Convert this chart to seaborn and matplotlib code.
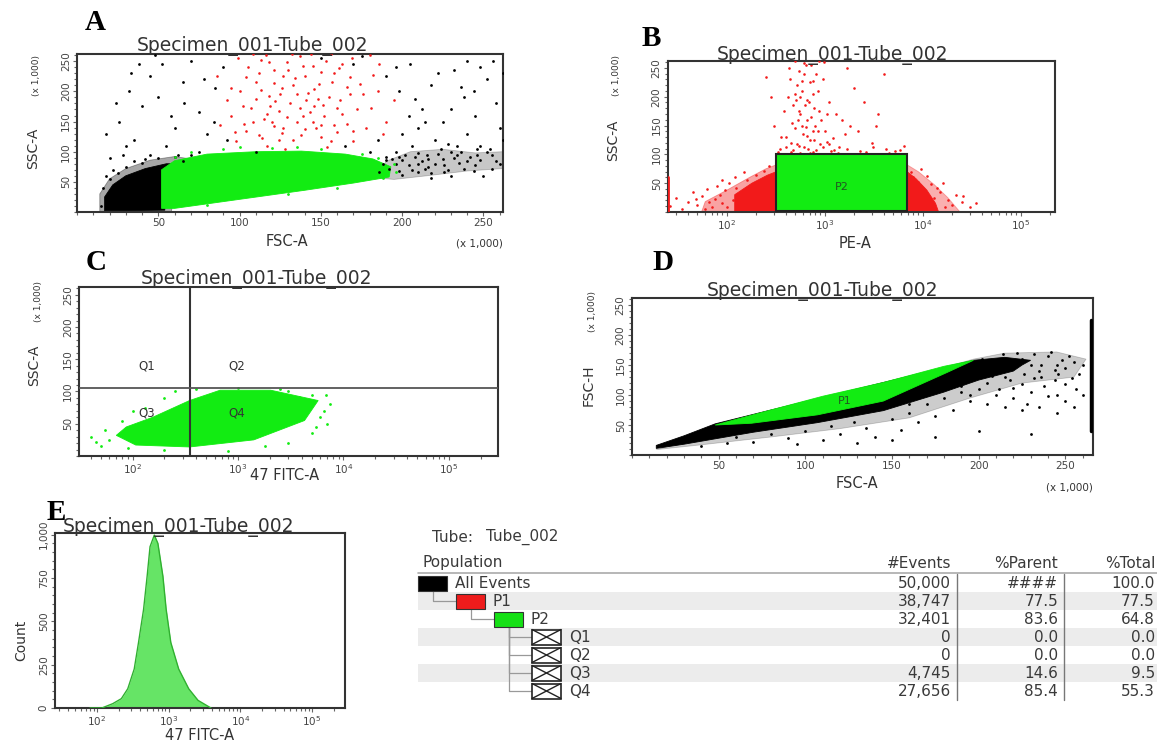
import numpy as np
import pandas as pd
import matplotlib
matplotlib.use('Agg')
import matplotlib.pyplot as plt
from matplotlib.patches import Rectangle
from matplotlib.ticker import FixedLocator, MultipleLocator, LogLocator, NullFormatter
import seaborn as sns

# ---------------- data ----------------
# panel A: FSC-A vs SSC-A (both x 1,000)
a_black_core = [(17, 2), (17, 25), (22, 45), (30, 60), (42, 72), (55, 80), (63, 80), (57, 60), (54, 30), (54, 3)]
a_black_halo = [(14, 0), (14, 30), (20, 55), (30, 72), (45, 86), (60, 92), (70, 88), (62, 60), (58, 0)]
a_green_core = [(52, 6), (52, 70), (60, 85), (80, 96), (110, 100), (138, 101), (165, 96), (182, 88), (193, 75),
                (192, 58), (170, 48), (140, 36), (100, 21), (60, 6)]
a_black_right_halo = [(186, 56), (190, 84), (205, 100), (225, 104), (245, 98), (262, 100), (262, 72), (240, 68), (215, 60), (195, 54)]
a_red = [(98, 118), (104, 135), (112, 128), (121, 142), (133, 120), (140, 138), (150, 125), (160, 133), (170, 118), (178, 140),
         (95, 160), (107, 172), (115, 155), (124, 168), (131, 181), (139, 160), (146, 175), (155, 190), (163, 162), (172, 170),
         (100, 200), (110, 215), (118, 192), (126, 205), (134, 222), (142, 198), (149, 212), (158, 230), (166, 208), (176, 195),
         (105, 240), (113, 252), (121, 236), (129, 248), (137, 258), (145, 242), (153, 250), (161, 238), (169, 255), (182, 228),
         (88, 145), (92, 185), (86, 225), (190, 150), (195, 185), (186, 245), (117, 110), (128, 104), (154, 108), (145, 150),
         (119, 176), (127, 140), (135, 195), (112, 230), (152, 160), (140, 225), (124, 120), (108, 150), (162, 185), (130, 235),
         (99, 255), (116, 260), (144, 262), (168, 224), (181, 172), (102, 176), (158, 145), (137, 172), (121, 214), (148, 188),
         (114, 122), (126, 131), (138, 127), (147, 139), (156, 118), (166, 146), (103, 146), (117, 163), (129, 158), (143, 166),
         (151, 178), (160, 172), (110, 188), (122, 184), (133, 210), (146, 204), (157, 216), (168, 196), (104, 224), (118, 248),
         (127, 226), (139, 242), (150, 232), (163, 246), (174, 212), (95, 205), (180, 260), (132, 262), (156, 262), (108, 262),
         (125, 195), (141, 186), (113, 202), (170, 135), (185, 200), (97, 132), (188, 130), (120, 150), (135, 150), (150, 145)]
a_black = [(22, 70), (28, 95), (35, 120), (26, 150), (40, 175), (32, 200), (45, 225), (38, 245), (55, 110), (60, 140),
           (50, 190), (65, 215), (70, 250), (75, 165), (80, 130), (62, 95), (85, 205), (90, 240), (150, 255), (175, 258),
           (190, 225), (198, 200), (205, 245), (212, 170), (218, 210), (225, 150), (232, 235), (238, 190), (245, 160), (252, 220),
           (258, 180), (200, 130), (210, 140), (220, 120), (230, 100), (240, 130), (248, 110), (255, 95), (260, 140), (185, 120),
           (215, 95), (225, 88), (235, 82), (245, 78), (255, 72), (206, 110), (196, 100), (216, 75), (228, 70), (250, 60),
           (42, 88), (30, 110), (18, 130), (58, 160), (48, 260), (110, 100), (165, 110), (180, 100), (240, 250), (262, 230),
           (192, 72), (196, 80), (200, 86), (204, 78), (208, 92), (212, 84), (216, 88), (220, 80), (198, 68), (206, 70),
           (210, 98), (202, 95), (194, 88), (214, 72), (222, 96), (226, 78), (232, 90), (236, 100), (242, 92), (248, 86),
           (188, 80), (186, 66), (218, 64), (230, 60), (238, 72), (252, 100), (258, 85), (244, 68), (234, 110), (224, 104),
           (15, 10), (16, 40), (20, 55), (25, 65), (30, 75), (40, 82), (50, 90), (60, 92), (65, 85), (70, 95),
           (22, 30), (18, 60), (35, 85), (45, 95), (75, 100), (200, 62), (210, 66), (190, 92), (228, 112), (246, 104),
           (20, 90), (24, 180), (33, 230), (52, 245), (66, 180), (78, 220), (84, 150), (92, 120), (170, 245), (196, 240),
           (208, 188), (222, 230), (236, 208), (248, 240), (256, 250), (244, 200), (230, 170), (214, 150), (204, 160), (262, 120),
           (234, 94), (226, 66), (218, 56), (210, 80), (198, 92), (190, 86), (246, 94), (254, 104), (260, 80), (240, 84)]
a_green = [(70, 100), (90, 104), (120, 106), (150, 104), (175, 97), (60, 92), (100, 108), (135, 108), (185, 90), (195, 80),
           (196, 66), (188, 56), (160, 40), (130, 30), (80, 12)]

# panel B: PE-A (log) vs SSC-A
b_gate = (320, 2, 6900, 100)          # P2 rectangle: x0, y0, x1, y1
b_red_left_core = [(120, 0), (120, 30), (180, 50), (260, 64), (320, 70), (320, 0)]
b_red_left_halo = [(55, 0), (60, 18), (100, 38), (170, 60), (250, 75), (320, 82), (320, 0)]
b_red_right_core = [(6900, 0), (6900, 70), (8500, 58), (11000, 38), (13500, 15), (14500, 0)]
b_red_right_halo = [(6900, 0), (6900, 82), (9000, 70), (13000, 48), (18000, 25), (24000, 0)]
b_red = [(26, 10), (30, 25), (35, 5), (40, 18), (45, 35), (50, 12), (55, 28), (62, 40), (70, 8), (75, 22),
         (80, 45), (88, 15), (95, 38), (105, 50), (115, 20), (125, 42), (140, 10), (160, 55), (180, 30), (200, 65),
         (240, 72), (270, 80), (150, 70), (120, 60), (90, 55), (65, 18), (85, 30), (100, 8), (60, 5), (48, 22),
         (7500, 70), (8000, 60), (9000, 52), (10000, 40), (12000, 48), (13000, 25), (15000, 35), (18000, 20), (20000, 12), (22000, 30),
         (25000, 18), (30000, 8), (9500, 75), (11000, 62), (16000, 50), (17000, 8), (14000, 42), (26000, 28), (35000, 15), (12000, 10),
         (350, 110), (400, 130), (450, 120), (500, 145), (550, 115), (600, 135), (650, 160), (700, 125), (800, 150), (900, 118),
         (1000, 140), (1200, 128), (1400, 112), (1600, 135), (380, 175), (420, 200), (470, 185), (520, 220), (560, 170), (610, 240),
         (660, 195), (720, 255), (780, 180), (850, 210), (950, 230), (1100, 190), (1300, 170), (1500, 160), (430, 250), (490, 262),
         (540, 245), (590, 210), (640, 255), (700, 225), (760, 205), (820, 240), (880, 175), (980, 260), (1800, 150), (2200, 140),
         (2500, 190), (3000, 120), (300, 150), (280, 200), (250, 235), (2000, 215), (3500, 170), (4000, 240), (1700, 250), (620, 185),
         (530, 160), (460, 155), (750, 140), (680, 110), (1150, 105), (900, 100), (1250, 108), (2600, 104), (4200, 110), (5200, 106),
         (560, 102), (760, 104), (450, 104), (3300, 150), (590, 228), (510, 195), (870, 262), (660, 132), (720, 165), (1050, 122),
         (470, 108), (520, 118), (610, 112), (700, 102), (820, 108), (950, 112), (1100, 118), (1350, 102), (1700, 110), (2300, 106),
         (3100, 112), (4500, 102), (5800, 108), (6500, 115), (400, 112), (360, 130), (330, 104), (580, 150), (640, 148), (780, 125),
         (860, 140), (920, 160), (1050, 170), (560, 200), (610, 258), (760, 228), (440, 230), (500, 205), (540, 175), (690, 190)]
b_edge_y = [0, 60]

# panel C: 47 FITC-A (log) vs SSC-A, quadrant gate
c_quad_x = 350
c_quad_y = 106
c_green_core = [(70, 32), (87, 45), (155, 60), (347, 86), (676, 102), (2040, 102), (5750, 86), (4270, 55), (1410, 25), (347, 14), (107, 17)]
c_green = [(60, 25), (55, 40), (80, 55), (100, 70), (130, 75), (200, 90), (250, 100), (400, 104), (1000, 105), (3000, 100),
           (5000, 95), (6500, 70), (7000, 50), (5000, 35), (3000, 20), (1800, 15), (90, 12), (50, 15), (40, 30), (4500, 80),
           (6000, 60), (150, 20), (200, 10), (800, 8), (2500, 104), (3800, 92), (7500, 80), (6800, 95), (5500, 45), (45, 22)]
c_quad_labels = [('Q1', 135, 139), ('Q2', 980, 139), ('Q3', 135, 66), ('Q4', 980, 66)]

# panel D: FSC-A vs FSC-H (both x 1,000)
d_black_core = [(14, 11), (14, 16), (30, 32), (48, 52), (80, 75), (145, 121), (197, 158), (215, 163), (230, 158), (225, 150),
                (220, 140), (200, 125), (180, 105), (145, 74), (107, 54), (70, 38), (48, 27), (30, 18)]
d_black_halo = [(14, 9), (40, 17), (80, 30), (120, 44), (160, 62), (195, 95), (225, 120), (255, 130), (262, 160), (245, 172),
                (215, 170), (197, 160)]
d_green_core = [(48, 50), (80, 75), (110, 98), (145, 121), (180, 148), (197, 158), (182, 138), (145, 90), (107, 67), (69, 53)]
d_black = [(40, 15), (55, 20), (60, 30), (70, 22), (80, 35), (90, 28), (95, 18), (100, 40), (110, 25), (115, 48),
           (120, 35), (128, 55), (135, 45), (140, 30), (150, 60), (155, 42), (160, 70), (165, 55), (170, 85), (175, 65),
           (180, 95), (185, 75), (190, 105), (195, 90), (150, 25), (130, 20), (175, 30), (200, 40), (230, 35), (245, 70),
           (200, 150), (205, 140), (210, 155), (215, 130), (220, 145), (225, 160), (230, 150), (235, 140), (240, 165), (245, 150),
           (250, 145), (255, 155), (258, 135), (205, 120), (212, 110), (218, 125), (225, 118), (232, 128), (238, 115), (244, 125),
           (250, 118), (256, 110), (260, 100), (210, 100), (220, 95), (230, 105), (240, 98), (250, 90), (228, 85), (236, 130),
           (246, 135), (252, 165), (242, 172), (222, 170), (214, 168), (180, 110), (185, 120), (190, 115), (170, 100), (160, 85),
           (165, 95), (195, 100), (200, 110), (205, 85), (215, 80), (225, 75), (235, 80), (245, 100), (255, 80), (248, 158),
           (236, 150), (226, 136), (254, 128), (260, 150), (208, 132), (232, 168), (244, 142), (216, 152), (202, 160), (220, 112)]
d_edge_y = [40, 225]

# panel E: histogram of 47 FITC-A
e_fitc = [80, 117, 166, 219, 269, 331, 380, 447, 501, 550, 631, 708, 832, 923, 1072, 1380, 1905, 2570, 3890]
e_count = [0, 0, 25, 54, 111, 225, 378, 569, 760, 931, 998, 950, 760, 569, 378, 225, 111, 44, 0]

# population hierarchy table
tube_name = 'Tube_002'
pop_names = ['All Events', 'P1', 'P2', 'Q1', 'Q2', 'Q3', 'Q4']
pop_level = [0, 1, 2, 3, 3, 3, 3]
pop_color = ['#000000', '#ee1c1c', '#16e016', None, None, None, None]
n_events = ['50,000', '38,747', '32,401', '0', '0', '4,745', '27,656']
pct_parent = ['####', '77.5', '83.6', '0.0', '0.0', '14.6', '85.4']
pct_total = ['100.0', '77.5', '64.8', '0.0', '0.0', '9.5', '55.3']

title = 'Specimen_001-Tube_002'

# ---------------- figure ----------------
sns.set_theme(style='ticks')
plt.rcParams['font.family'] = ['DejaVu Sans']

W, H = 1157, 742
fig = plt.figure(figsize=(W / 100, H / 100), dpi=100)

GREEN = '#12ec12'
RED = '#f21a1a'
TXT = '#3a3a3a'


def box(l, t, r, b):
    return [l / W, 1 - b / H, (r - l) / W, (b - t) / H]


def pts(lst):
    return pd.DataFrame(lst, columns=['x', 'y'])


def style_flow(ax, xlog, xlim, ylim, yticks, ylabels):
    if xlog:
        ax.set_xscale('log')
        ax.xaxis.set_major_locator(FixedLocator([1e2, 1e3, 1e4, 1e5]))
        ax.xaxis.set_minor_locator(LogLocator(base=10, subs=np.arange(2, 10)))
        ax.xaxis.set_minor_formatter(NullFormatter())
        ax.set_xticklabels(['$10^2$', '$10^3$', '$10^4$', '$10^5$'])
    else:
        ax.xaxis.set_major_locator(FixedLocator([50, 100, 150, 200, 250]))
        ax.xaxis.set_minor_locator(MultipleLocator(10))
        ax.set_xticklabels(['50', '100', '150', '200', '250'])
    ax.set_xlim(xlim)
    ax.set_ylim(ylim)
    ax.yaxis.set_major_locator(FixedLocator(yticks))
    ax.yaxis.set_minor_locator(MultipleLocator((yticks[1] - yticks[0]) / 5))
    ax.set_yticklabels(ylabels, rotation=90, va='center')
    ax.tick_params(which='both', direction='out', colors='#666', labelcolor='#444',
                   labelsize=7.5, width=0.8, pad=1.5)
    ax.tick_params(which='major', length=3)
    ax.tick_params(which='minor', length=2)
    for s in ax.spines.values():
        s.set_linewidth(1.5)
        s.set_color('#333')
        s.set_visible(True)
    ax.set_xlabel('')
    ax.set_ylabel('')


def core(ax, lst, color, alpha=1.0, z=2):
    d = pts(lst)
    ax.fill(d['x'], d['y'], color=color, lw=0.6, ec=color, alpha=alpha, zorder=z)


def dots(ax, lst, color, s=4):
    sns.scatterplot(data=pts(lst), x='x', y='y', color=color, s=s, linewidth=0, ax=ax, legend=False, zorder=3)


lin_ticks = [50, 100, 150, 200, 250]
lin_labels = ['50', '100', '150', '200', '250']

# --- A ---
axA = fig.add_axes(box(77, 54, 503, 212))
core(axA, a_black_halo, 'black', alpha=0.35, z=1)
core(axA, a_black_right_halo, 'black', alpha=0.22, z=1)
core(axA, a_black_core, 'black')
dots(axA, a_black, 'black')
dots(axA, a_red, RED, s=3.5)
core(axA, a_green_core, GREEN)
dots(axA, a_green, GREEN)
style_flow(axA, False, (0, 262), (0, 262), lin_ticks, lin_labels)

# --- B ---
axB = fig.add_axes(box(668, 61, 1055, 212))
core(axB, b_red_left_halo, RED, alpha=0.4, z=1)
core(axB, b_red_right_halo, RED, alpha=0.35, z=1)
core(axB, b_red_left_core, RED)
core(axB, b_red_right_core, RED)
dots(axB, b_red, RED, s=3.5)
x0, y0, x1, y1 = b_gate
axB.add_patch(Rectangle((x0, y0), x1 - x0, y1 - y0, fc=GREEN, ec='#222', lw=1.5, zorder=4))
axB.text(np.sqrt(x0 * x1), (y0 + y1) / 2 - 8, 'P2', ha='center', va='center', fontsize=8, color='#225522', zorder=5)
axB.plot([25, 25], b_edge_y, color=RED, lw=2, zorder=3)
style_flow(axB, True, (25, 224000), (0, 262), lin_ticks, lin_labels)

# --- C ---
axC = fig.add_axes(box(79, 287, 498, 456))
core(axC, c_green_core, GREEN)
dots(axC, c_green, GREEN)
axC.axvline(c_quad_x, color='#333', lw=1.5, zorder=4)
axC.axhline(c_quad_y, color='#555', lw=1.3, zorder=4)
for lab, qx, qy in c_quad_labels:
    axC.text(qx, qy, lab, ha='center', va='center', fontsize=8.5, color='#333', zorder=5)
style_flow(axC, True, (31, 292000), (0, 262), lin_ticks, lin_labels)

# --- D ---
axD = fig.add_axes(box(632, 298, 1093, 455))
core(axD, d_black_halo, 'black', alpha=0.2, z=1)
core(axD, d_black_core, 'black')
dots(axD, d_black, 'black')
core(axD, d_green_core, GREEN)
axD.text(123, 90, 'P1', ha='center', va='center', fontsize=8, color='#225522', zorder=5)
axD.plot([265, 265], d_edge_y, color='black', lw=2.5, zorder=3)
style_flow(axD, False, (0, 266), (0, 262), lin_ticks, lin_labels)

# --- E ---
axE = fig.add_axes(box(55, 533, 345, 708))
axE.fill_between(e_fitc, e_count, color='#66e466', lw=0, zorder=2)
sns.lineplot(x=e_fitc, y=e_count, color='#30b030', lw=1, ax=axE, zorder=3, sort=False)
style_flow(axE, True, (26, 288000), (0, 1010), [0, 250, 500, 750, 1000], ['0', '250', '500', '750', '1,000'])

# ---------------- overlay: letters, titles, axis labels, table ----------------
ov = fig.add_axes([0, 0, 1, 1], zorder=10)
ov.set_xlim(0, W)
ov.set_ylim(H, 0)
ov.axis('off')

for letter, lx, ly in [('A', 95, 22), ('B', 651, 38), ('C', 96, 263), ('D', 663, 263), ('E', 56, 512)]:
    ov.text(lx, ly, letter, ha='center', va='center', fontsize=21, fontweight='bold',
            family='Liberation Serif', color='black')

for tx, ty in [(253, 46), (832, 55), (257, 279), (822, 291), (178, 527)]:
    ov.text(tx, ty, title, ha='center', va='center', fontsize=13.5, color='#333')

xlabels = [('FSC-A', 287, 241), ('PE-A', 855, 243), ('47 FITC-A', 285, 476), ('FSC-A', 857, 484), ('47 FITC-A', 200, 735)]
for s, tx, ty in xlabels:
    ov.text(tx, ty, s, ha='center', va='center', fontsize=10.5, color='#333')
for tx, ty in [(503, 243), (1093, 487)]:
    ov.text(tx, ty, '(x 1,000)', ha='right', va='center', fontsize=7.5, color='#333')

ylabels = [('SSC-A', 33, 148), ('SSC-A', 613, 140), ('SSC-A', 34, 365), ('FSC-H', 589, 385), ('Count', 21, 640)]
for s, tx, ty in ylabels:
    ov.text(tx, ty, s, ha='center', va='center', rotation=90, fontsize=10, color='#333')
for tx, ty in [(37, 75), (617, 75), (38, 302), (593, 312)]:
    ov.text(tx, ty, '(x 1,000)', ha='center', va='center', rotation=90, fontsize=6.5, color='#333')

# table
FS = 11
ov.text(432, 537, 'Tube:', ha='left', va='center', fontsize=FS, color=TXT)
ov.text(486, 537, tube_name, ha='left', va='center', fontsize=FS, color=TXT)
hy = 563
ov.text(423, hy, 'Population', ha='left', va='center', fontsize=FS, color=TXT)
col_right = [951, 1058, 1155]
for cx, h in zip(col_right, ['#Events', '%Parent', '%Total']):
    ov.text(cx, hy, h, ha='right', va='center', fontsize=FS, color=TXT)
ov.plot([418, 1157], [573, 573], color='#aaa', lw=1.2)

row0, dy = 583, 18
for i in range(len(pop_names)):
    ry = row0 + dy * i
    if i % 2 == 1:
        ov.add_patch(Rectangle((418, ry - 9), 739, 18, fc='#ececec', ec='none', zorder=0))
for cx in [957, 1064]:
    ov.plot([cx, cx], [574, 700], color='#777', lw=1)

box_w, box_h, step = 29, 15, 38
for i, (name, lev, col) in enumerate(zip(pop_names, pop_level, pop_color)):
    ry = row0 + dy * i
    bx = 418 + step * lev
    if col is not None:
        ov.add_patch(Rectangle((bx, ry - box_h / 2), box_w, box_h, fc=col, ec='#333', lw=0.8, zorder=3))
    else:
        ov.add_patch(Rectangle((bx, ry - box_h / 2), box_w, box_h, fc='white', ec='#222', lw=1.2, zorder=3))
        ov.plot([bx, bx + box_w], [ry - box_h / 2, ry + box_h / 2], color='#222', lw=1, zorder=4)
        ov.plot([bx, bx + box_w], [ry + box_h / 2, ry - box_h / 2], color='#222', lw=1, zorder=4)
    ov.text(bx + box_w + 8, ry, name, ha='left', va='center', fontsize=FS, color=TXT, zorder=4)
    ov.text(col_right[0], ry, n_events[i], ha='right', va='center', fontsize=FS, color=TXT)
    ov.text(col_right[1], ry, pct_parent[i], ha='right', va='center', fontsize=FS, color=TXT,
            style='italic' if pct_parent[i].startswith('#') else 'normal')
    ov.text(col_right[2], ry, pct_total[i], ha='right', va='center', fontsize=FS, color=TXT)
    if lev > 0:
        # connector from the parent gate's box
        p = max(j for j in range(i) if pop_level[j] < lev)
        px = 418 + step * pop_level[p] + box_w / 2
        py = row0 + dy * p + box_h / 2
        ov.plot([px, px, bx], [py, ry, ry], color='#999', lw=0.9, zorder=2)

fig.savefig('out.png', dpi=100)
